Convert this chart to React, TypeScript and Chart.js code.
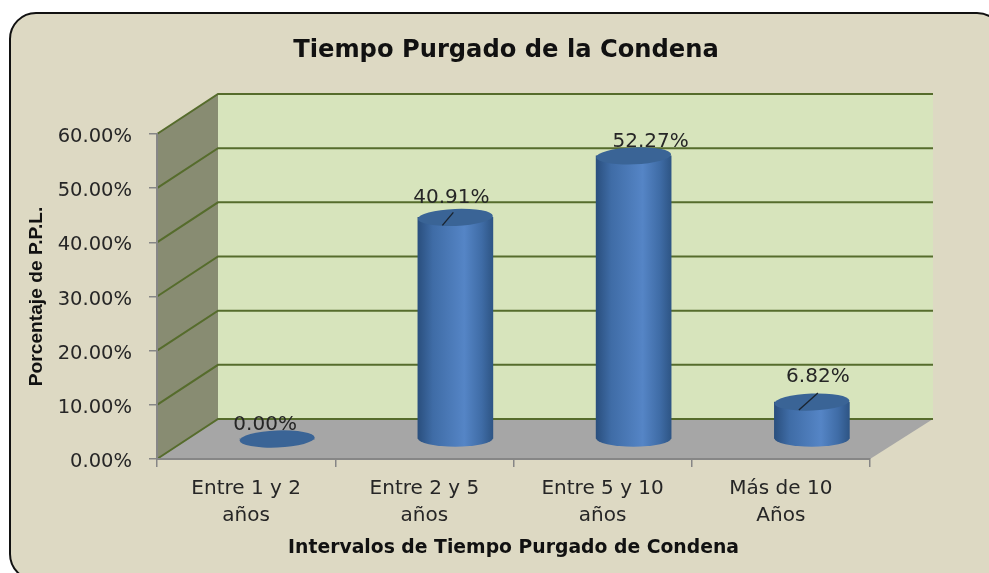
import React, { useEffect, useRef } from "react";
import { Chart, registerables } from "chart.js";

Chart.register(...registerables);

const categories = [["Entre 1 y 2", "años"], ["Entre 2 y 5", "años"], ["Entre 5 y 10", "años"], ["Más de 10", "Años"]];
const values = [0.0, 40.91, 52.27, 6.82];
const valueLabels = ["0.00%", "40.91%", "52.27%", "6.82%"];
const chartTitle = "Tiempo Purgado de la Condena";
const xTitle = "Intervalos de Tiempo Purgado de Condena";
const yTitle = "Porcentaje de P.P.L.";

const DX = 61;
const DY = -40;
const MX = 31;
const MY = -20;
const RY = 8.5;
const TILT = -0.04;
const BAR_W = 75;
const labelOffsets = [[-12, -14], [-4, -20], [17, -14], [6, -25]];
const leaders: (number[] | null)[] = [null, [-2, -5, -13, 8], null, [6, -9, -13, 8]];
const FONT = "'DejaVu Sans'";
const TEXT = "#262626";

function addStops(g: CanvasGradient) {
  g.addColorStop(0, "#2A4F7E");
  g.addColorStop(0.2, "#3F6CA6");
  g.addColorStop(0.62, "#5585C6");
  g.addColorStop(0.85, "#3F6CA6");
  g.addColorStop(1, "#2E5585");
}

const scene = {
  id: "scene",
  afterLayout(chart: any) {
    if (chart.titleBlock) {
      chart.titleBlock.left = 25;
      chart.titleBlock.right = 987;
    }
    chart.scales.y.getLabelItems(chart.chartArea).forEach((it: any) => {
      it.options.translation = [it.options.translation[0], it.options.translation[1] + 3];
    });
  },
  beforeDraw(chart: any) {
    const { ctx, chartArea: a, scales } = chart;
    const { y } = scales;
    ctx.save();
    ctx.fillStyle = "#fff";
    ctx.fillRect(0, 0, chart.width, chart.height);
    ctx.beginPath();
    ctx.roundRect(10, 13, 993, 567, 26);
    ctx.fillStyle = "#DDD9C3";
    ctx.fill();
    ctx.lineWidth = 2;
    ctx.strokeStyle = "#111";
    ctx.stroke();

    const l = a.left, r = a.right, t = a.top, b = a.bottom;
    ctx.fillStyle = "#888C72";
    ctx.beginPath();
    ctx.moveTo(l, t); ctx.lineTo(l + DX, t + DY); ctx.lineTo(l + DX, b + DY); ctx.lineTo(l, b); ctx.closePath();
    ctx.fill();
    ctx.fillStyle = "#D7E4BC";
    ctx.fillRect(l + DX, t + DY, r - l + 2, b - t);
    ctx.fillStyle = "#A6A6A6";
    ctx.beginPath();
    ctx.moveTo(l, b); ctx.lineTo(l + DX, b + DY); ctx.lineTo(r + DX + 2, b + DY); ctx.lineTo(r, b); ctx.closePath();
    ctx.fill();

    ctx.strokeStyle = "#566C2C";
    ctx.lineWidth = 2;
    y.ticks.forEach((tick: any) => {
      const py = y.getPixelForValue(tick.value);
      ctx.beginPath();
      ctx.moveTo(l, py);
      ctx.lineTo(l + DX, py + DY);
      ctx.lineTo(r + DX + 2, py + DY);
      ctx.stroke();
    });
    ctx.restore();
  },
  beforeDatasetDraw(chart: any) {
    const { ctx } = chart;
    const meta = chart.getDatasetMeta(0);
    ctx.save();
    meta.data.forEach((bar: any, i: number) => {
      if (values[i] <= 0) return;
      const cx = bar.x + MX, cy = bar.base + MY;
      const g = ctx.createLinearGradient(cx - BAR_W / 2, 0, cx + BAR_W / 2, 0);
      addStops(g);
      ctx.fillStyle = g;
      ctx.beginPath();
      ctx.ellipse(cx, cy, BAR_W / 2, RY, 0, 0, Math.PI * 2);
      ctx.fill();
    });
    ctx.translate(MX, MY);
  },
  afterDatasetDraw(chart: any) {
    const { ctx } = chart;
    ctx.restore();
    const meta = chart.getDatasetMeta(0);
    ctx.save();
    meta.data.forEach((bar: any) => {
      const cx = bar.x + MX, cy = bar.y + MY;
      ctx.fillStyle = "#3A6496";
      ctx.beginPath();
      ctx.ellipse(cx, cy, BAR_W / 2, RY, TILT, 0, Math.PI * 2);
      ctx.fill();
    });
    meta.data.forEach((bar: any, i: number) => {
      const cx = bar.x + MX, cy = bar.y + MY;
      const ln = leaders[i];
      if (ln) {
        ctx.strokeStyle = "#1A2430";
        ctx.lineWidth = 1.4;
        ctx.beginPath();
        ctx.moveTo(cx + ln[0], cy + ln[1]);
        ctx.lineTo(cx + ln[2], cy + ln[3]);
        ctx.stroke();
      }
      ctx.fillStyle = TEXT;
      ctx.font = `20px ${FONT}`;
      ctx.textAlign = "center";
      ctx.textBaseline = "middle";
      ctx.fillText(valueLabels[i], cx + labelOffsets[i][0], cy + labelOffsets[i][1]);
    });
    ctx.restore();
  },
};

export default function App() {
  const ref = useRef<HTMLCanvasElement | null>(null);
  useEffect(() => {
    const chart = new Chart(ref.current as HTMLCanvasElement, {
      type: "bar",
      data: {
        labels: categories,
        datasets: [
          {
            data: values,
            barThickness: BAR_W,
            borderWidth: 0,
            clip: false,
            backgroundColor: (c: any) => {
              const ch = c.chart;
              if (!ch.chartArea) return "#4A78B5";
              const x = ch.scales.x.getPixelForValue(c.dataIndex);
              const g = ch.ctx.createLinearGradient(x - BAR_W / 2, 0, x + BAR_W / 2, 0);
              addStops(g);
              return g;
            },
          } as any,
        ],
      },
      options: {
        responsive: false,
        animation: false,
        devicePixelRatio: 1,
        layout: { padding: { left: 25, right: 119, top: 0, bottom: 14 } },
        plugins: {
          legend: { display: false },
          tooltip: { enabled: false },
          title: {
            display: true,
            text: chartTitle,
            color: "#111",
            font: { family: FONT, size: 24.2, weight: "bold", lineHeight: "26px" },
            padding: { top: 38, bottom: 70 },
          },
        },
        scales: {
          x: {
            grid: { drawOnChartArea: false, color: "#868686", tickLength: 8, lineWidth: 1.5 },
            border: { color: "#868686", width: 2 },
            ticks: { color: TEXT, font: { family: FONT, size: 20, lineHeight: 1.35 }, padding: 8, maxRotation: 0, autoSkip: false },
            title: {
              display: true,
              text: xTitle,
              color: "#111",
              font: { family: FONT, size: 18.8, weight: "bold", lineHeight: 1.2 },
              padding: { top: 0, bottom: 0 },
            },
            afterFit: (s: any) => { s.height = 573 - 459 - 14; },
          } as any,
          y: {
            min: 0,
            max: 60,
            ticks: {
              stepSize: 10,
              color: TEXT,
              font: { family: FONT, size: 19.5 },
              padding: 17,
              callback: (v: any) => Number(v).toFixed(2) + "%",
            },
            grid: { drawOnChartArea: false, color: "#868686", tickLength: 8, lineWidth: 1.5 },
            border: { color: "#868686", width: 2 },
            title: {
              display: true,
              text: yTitle,
              color: "#111",
              font: { family: "'Liberation Sans Narrow', 'Liberation Sans'", size: 19.2, weight: "bold", lineHeight: 1.2 },
              padding: { top: 0, bottom: 0 },
            },
            afterFit: (s: any) => { s.width = 157 - 25; },
          } as any,
        },
      } as any,
      plugins: [scene],
    });
    return () => chart.destroy();
  }, []);
  return (
    <div style={{ position: "absolute", left: 0, top: 0, width: 989, height: 573, overflow: "hidden" }}>
      <canvas ref={ref} width={989} height={573} style={{ display: "block" }} />
    </div>
  );
}
